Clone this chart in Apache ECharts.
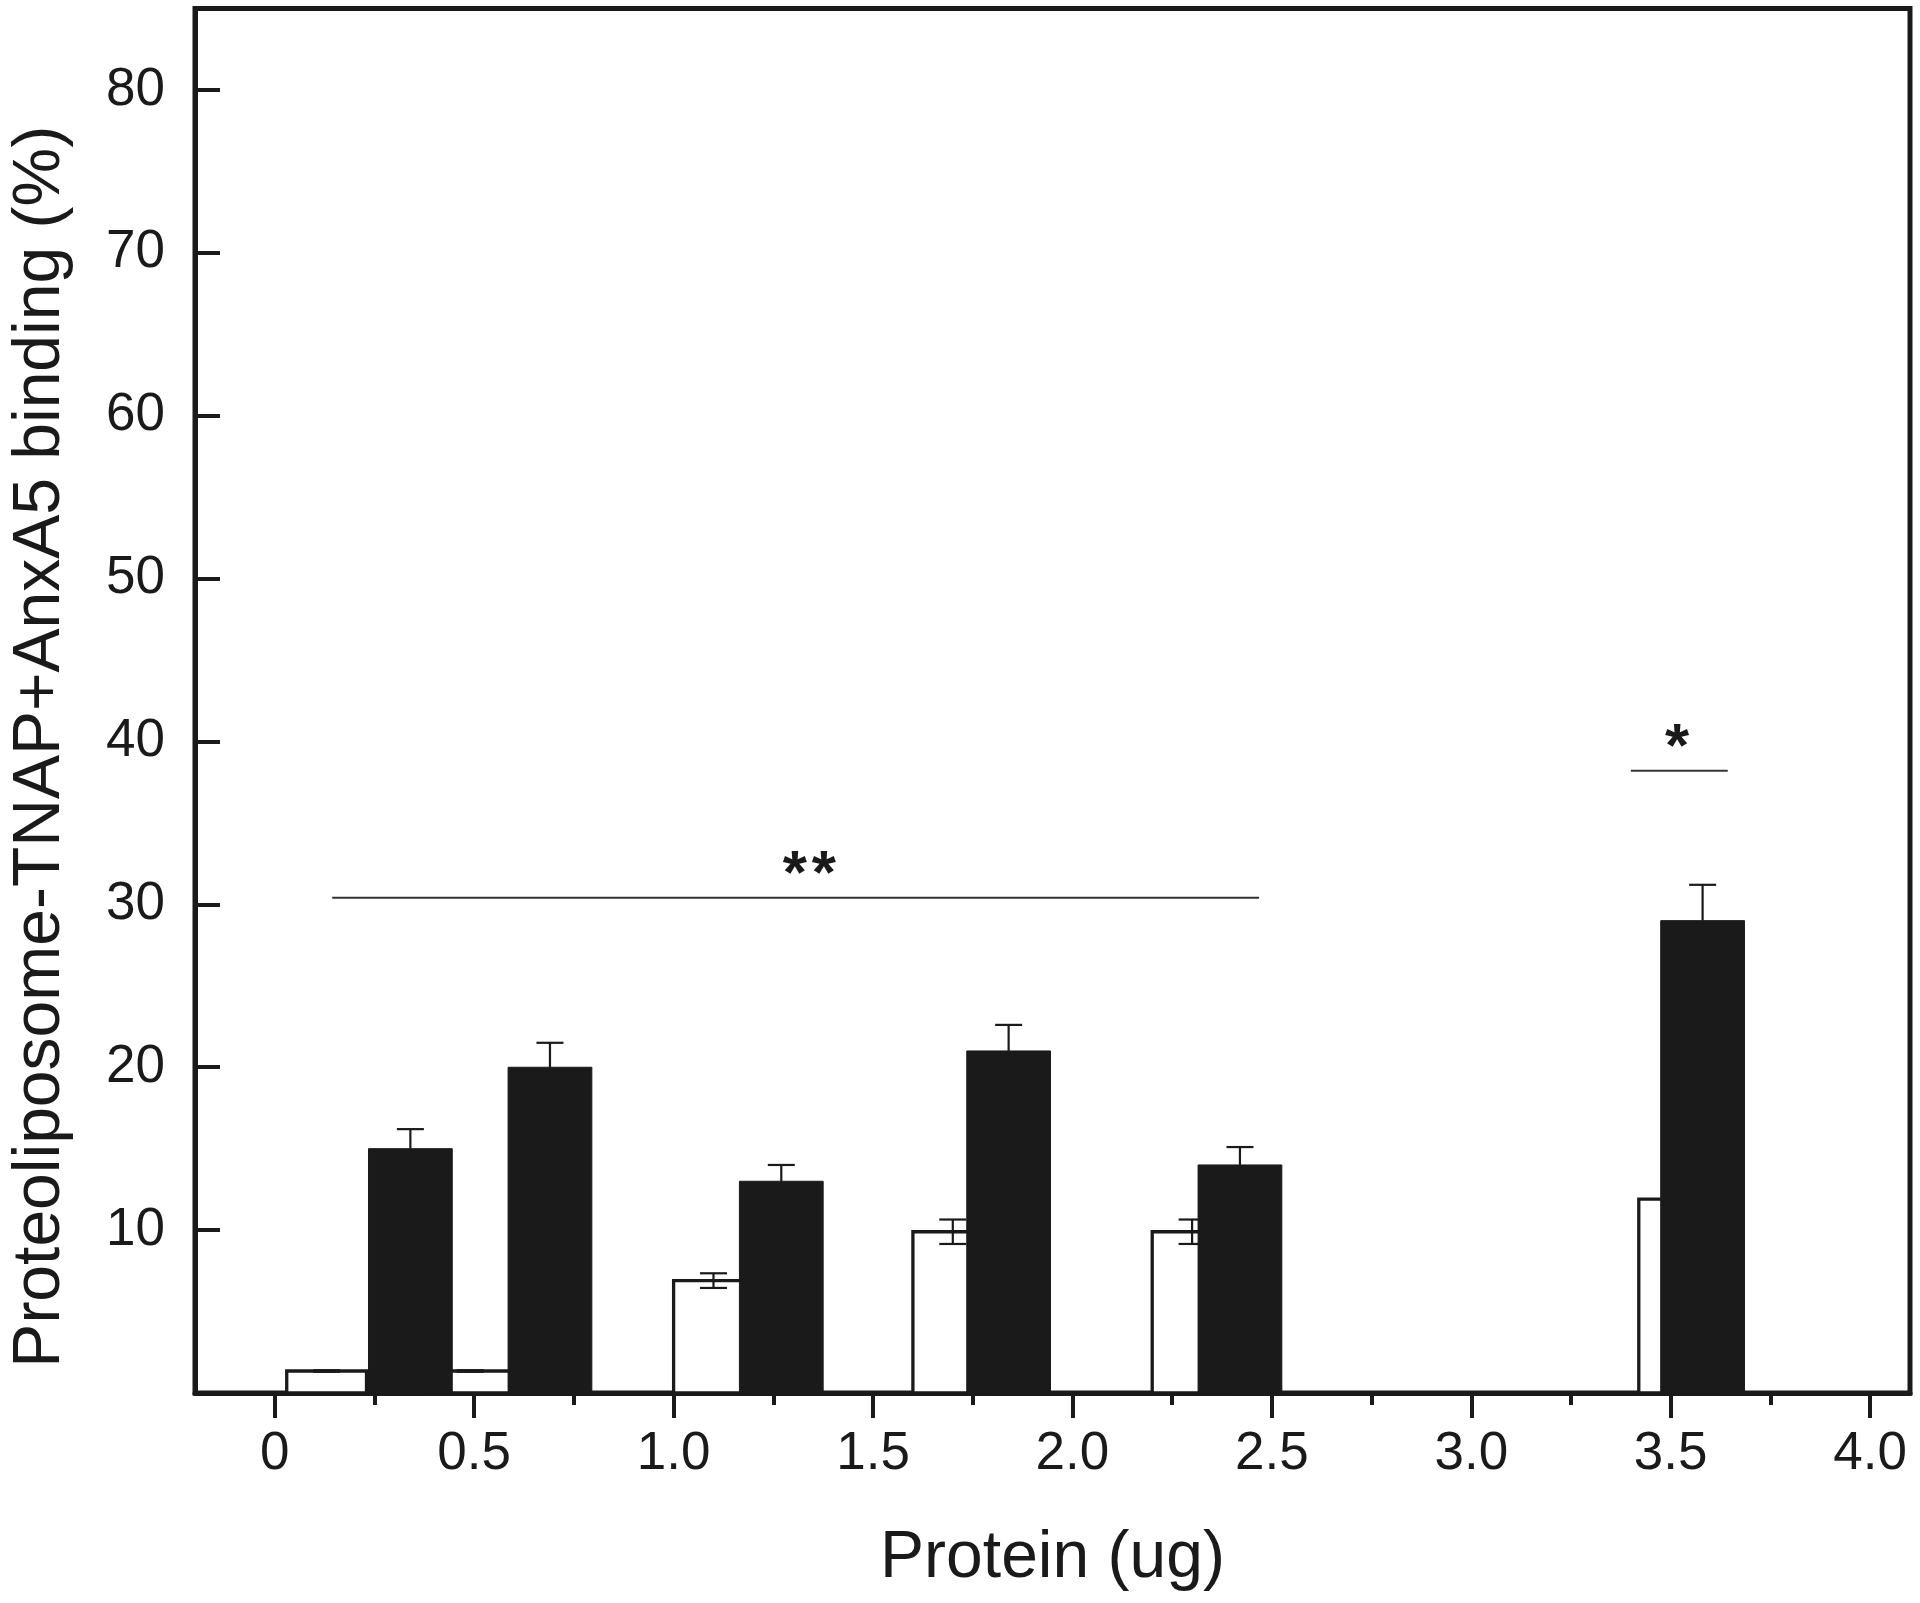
<!DOCTYPE html>
<html><head><meta charset="utf-8">
<script src="https://cdn.jsdelivr.net/npm/echarts@6/dist/echarts.min.js"></script>
<style>html,body{margin:0;padding:0;background:#fff}#c{width:1920px;height:1603px}</style>
</head><body><div id="c"></div>
<script>
// ---- data ----
const xTickValues = [0, 0.5, 1.0, 1.5, 2.0, 2.5, 3.0, 3.5, 4.0];
const xTickLabels = ['0', '0.5', '1.0', '1.5', '2.0', '2.5', '3.0', '3.5', '4.0'];
const xMinorTicks = [0.25, 0.75, 1.25, 1.75, 2.25, 2.75, 3.25, 3.75];
const yTickValues = [10, 20, 30, 40, 50, 60, 70, 80];

// open bars
const whiteX = [0.13, 0.49, 1.10, 1.70, 2.30, 3.52];
const whiteY = [1.35, 1.35, 6.9, 9.9, 9.9, 11.9];
const whiteErr = [0.05, 0.05, 0.45, 0.75, 0.75, 0];
// filled bars
const blackX = [0.34, 0.69, 1.27, 1.84, 2.42, 3.58];
const blackY = [15, 20, 13, 21, 14, 29];
const blackErr = [1.2, 1.5, 1.0, 1.6, 1.1, 2.2];

// significance markers
const sigStart = [0.144, 3.40];
const sigEnd = [2.468, 3.643];
const sigLevel = [30.4, 38.2];
const sigTextX = [1.34, 3.516];
const sigStars = [2, 1];

const FONT = "'Liberation Sans', Arial, Helvetica, sans-serif";
const INK = '#1a1a1a';

function barRenderer(halfW, fill, strokeW, showLower) {
  return function (params, api) {
    const x = api.value(0), y = api.value(1), e = api.value(2);
    const p0 = api.coord([x - halfW, y]);
    const p1 = api.coord([x + halfW, 0]);
    const children = [{
      type: 'rect',
      shape: { x: p0[0], y: p0[1], width: p1[0] - p0[0], height: p1[1] - p0[1] },
      style: { fill: fill, stroke: INK, lineWidth: strokeW }
    }];
    if (e > 0) {
      const top = api.coord([x, y + e]);
      const bot = api.coord([x, y - e]);
      const capHalf = 13.5;
      children.push({ type: 'line', shape: { x1: top[0], y1: top[1], x2: top[0], y2: showLower ? bot[1] : p0[1] }, style: { stroke: INK, lineWidth: 2.2 } });
      children.push({ type: 'line', shape: { x1: top[0] - capHalf, y1: top[1], x2: top[0] + capHalf, y2: top[1] }, style: { stroke: INK, lineWidth: 2.2 } });
      if (showLower) {
        children.push({ type: 'line', shape: { x1: bot[0] - capHalf, y1: bot[1], x2: bot[0] + capHalf, y2: bot[1] }, style: { stroke: INK, lineWidth: 2.2 } });
      }
    }
    return { type: 'group', children: children };
  };
}

function sigRenderer(params, api) {
  const x1 = api.value(0), x2 = api.value(1), y = api.value(2), tx = api.value(3), n = api.value(4);
  const a = api.coord([x1, y]);
  const b = api.coord([x2, y]);
  const t = api.coord([tx, y]);
  const children = [{ type: 'line', shape: { x1: a[0], y1: a[1], x2: b[0], y2: b[1] }, style: { stroke: '#333', lineWidth: 2 } }];
  const spacing = 29;
  for (let i = 0; i < n; i++) {
    const cx = t[0] + (i - (n - 1) / 2) * spacing;
    children.push({
      type: 'text',
      x: cx, y: t[1] - 22,
      style: { text: '*', font: 'bold 62px ' + FONT, fill: INK, align: 'center', verticalAlign: 'middle' }
    });
  }
  return { type: 'group', children: children };
}

const chart = echarts.init(document.getElementById('c'), null, { renderer: 'canvas' });
chart.setOption({
  backgroundColor: '#fff',
  animation: false,
  grid: { left: 193, right: 10, top: 8.5, bottom: 210, show: true, borderColor: INK, borderWidth: 5, backgroundColor: 'transparent' },
  xAxis: [{
    type: 'value', min: -0.2, max: 4.1,
    axisLine: { show: true, onZero: false, lineStyle: { color: INK, width: 5 } },
    axisTick: { show: true, inside: false, length: 25, customValues: xTickValues, lineStyle: { color: INK, width: 4 } },
    axisLabel: {
      show: true, customValues: xTickValues, margin: 35, fontSize: 53, fontFamily: FONT, color: INK,
      formatter: function (v) { const i = xTickValues.findIndex(t => Math.abs(t - v) < 1e-6); return i >= 0 ? xTickLabels[i] : ''; }
    },
    splitLine: { show: false },
    name: 'Protein (ug)', nameLocation: 'middle', nameGap: 133,
    nameTextStyle: { fontSize: 66, fontFamily: FONT, color: INK }
  }, {
    type: 'value', min: -0.2, max: 4.1, position: 'bottom', offset: 0,
    axisLine: { show: false, onZero: false },
    axisTick: { show: true, inside: false, length: 12, customValues: xMinorTicks, lineStyle: { color: INK, width: 4 } },
    axisLabel: { show: false },
    splitLine: { show: false }
  }],
  yAxis: {
    type: 'value', min: 0, max: 85,
    axisLine: { show: true, onZero: false, lineStyle: { color: INK, width: 5 } },
    axisTick: { show: true, inside: true, length: 25, customValues: yTickValues, lineStyle: { color: INK, width: 4 } },
    axisLabel: { show: true, customValues: yTickValues, margin: 30, fontSize: 53, fontFamily: FONT, color: INK },
    splitLine: { show: false },
    name: 'Proteoliposome-TNAP+AnxA5 binding (%)', nameLocation: 'middle', nameGap: 121,
    nameTextStyle: { fontSize: 66, fontFamily: FONT, color: INK, padding: [0, 92, 0, 0] }
  },
  series: [{
    type: 'custom', name: 'open', xAxisIndex: 0, yAxisIndex: 0, z: 2,
    renderItem: barRenderer(0.1, '#ffffff', 3.3, true),
    encode: { x: 0, y: 1 },
    data: whiteX.map((x, i) => [x, whiteY[i], whiteErr[i]])
  }, {
    type: 'custom', name: 'filled', xAxisIndex: 0, yAxisIndex: 0, z: 3,
    renderItem: barRenderer(0.105, INK, 1, false),
    encode: { x: 0, y: 1 },
    data: blackX.map((x, i) => [x, blackY[i], blackErr[i]])
  }, {
    type: 'custom', name: 'sig', xAxisIndex: 0, yAxisIndex: 0, z: 4,
    renderItem: sigRenderer,
    encode: { x: [0, 1], y: 2 },
    data: sigStart.map((s, i) => [s, sigEnd[i], sigLevel[i], sigTextX[i], sigStars[i]])
  }]
});
</script>
</body></html>
